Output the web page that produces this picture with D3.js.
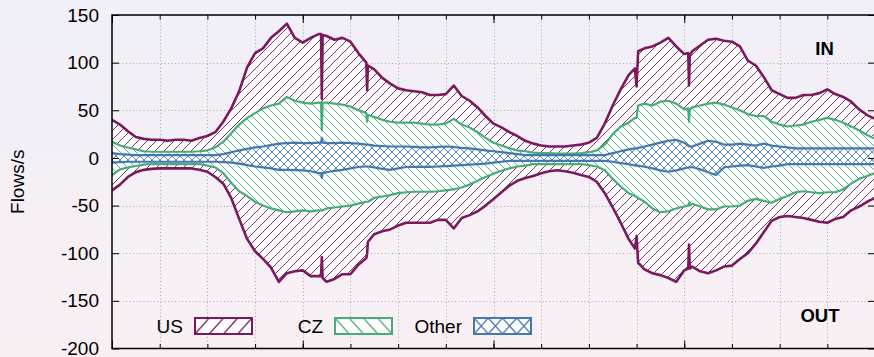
<!DOCTYPE html>
<html>
<head>
<meta charset="utf-8">
<script src="https://cdn.jsdelivr.net/npm/d3@7"></script>
<style>
  html, body { margin: 0; padding: 0; }
  svg { display: block; }
  text { font-family: "Liberation Sans", Arial, Helvetica, sans-serif; }
</style>
</head>
<body>
<svg id="chart" width="874" height="357"></svg>
<script>
// ---------------- data (flows/s) ----------------
const hours = [
  0, 0.5, 1, 1.5, 2, 2.5, 3, 3.5, 4, 4.5,
  5, 5.5, 6, 6.5, 7, 7.5, 8, 8.5, 9, 9.5,
  10, 10.5, 11, 11.5, 12, 12.5, 13, 13.15, 13.2, 13.25,
  13.5, 14, 14.5, 15, 15.5, 16, 16.05, 16.1, 16.5, 17,
  17.5, 18, 18.5, 19, 19.5, 20, 20.5, 21, 21.5, 22,
  22.5, 23, 23.5, 24, 24.5, 25, 25.5, 26, 26.5, 27,
  27.5, 28, 28.5, 29, 29.5, 30, 30.5, 31, 31.5, 32,
  32.5, 32.9, 33, 33.1, 33.5, 34, 34.5, 35, 35.5, 36,
  36.25, 36.3, 36.35, 36.5, 37, 37.5, 38, 38.5, 39, 39.5,
  40, 40.5, 41, 41.5, 42, 42.5, 43, 43.5, 44, 44.5,
  45, 45.5, 46, 46.5, 47, 47.5, 48
];
const usIn = [
  40, 35, 28, 22, 20, 19, 19, 18, 19, 19,
  18, 21, 23, 27, 38, 52, 70, 95, 110, 115,
  126, 133, 141, 126, 121, 126, 130, 130, 62, 129,
  128, 124, 126, 122, 110, 100, 71, 97, 93, 84,
  78, 73, 71, 70, 69, 66, 66, 67, 76, 65,
  60, 53, 44, 36, 32, 27, 23, 18, 15, 13,
  12, 12, 12, 13, 14, 16, 21, 36, 55, 72,
  87, 94, 75, 112, 115, 117, 121, 126, 117, 109,
  110, 76, 108, 112, 118, 124, 125, 123, 122, 117,
  102, 97, 85, 71, 67, 63, 63, 66, 66, 68,
  72, 67, 64, 59, 51, 45, 41
];
const czIn = [
  17, 13, 11, 9, 7, 6.5, 6.5, 6.5, 6.5, 6.5,
  6.5, 7, 8, 11, 17, 26, 35, 42, 47, 52,
  55, 57, 64, 60, 58, 57, 58, 58, 29, 58,
  58, 57, 56, 54, 50, 47, 38, 45, 43, 40,
  38, 37, 37, 37, 36, 35, 35, 36, 41, 35,
  32, 27, 21, 16, 13, 10, 8, 7, 5.5, 5,
  5, 4.5, 4.5, 4.5, 5, 6, 8, 14, 25, 33,
  37, 42, 42, 55, 57, 55, 59, 60, 57, 51,
  52, 38, 51, 53, 55, 57, 58, 56, 53, 50,
  46, 44, 44, 38, 35, 33, 34, 35, 38, 40,
  42, 40, 37, 33, 29, 24, 20
];
const otherIn = [
  5, 4, 3.5, 3, 3, 3, 3, 3, 3, 3,
  3, 3, 3, 3, 4, 6, 8, 9.5, 11, 12,
  13.5, 15, 15.5, 16, 15.5, 15.5, 16, 16, 21, 16,
  15.5, 15.5, 16, 15.5, 15, 14, 14, 14, 13, 12.5,
  12, 12, 12, 11.5, 11, 11, 11.5, 12, 11.5, 10.5,
  10, 9, 8, 7, 6, 5, 4, 3, 3, 3,
  3, 3, 3, 3, 3, 3, 3, 3, 5, 7,
  9, 10, 10, 10.5, 12, 14, 16, 18, 19, 16,
  13, 12, 12, 12, 15, 18, 17, 14, 14, 15,
  14, 13, 15, 13, 12, 11, 10, 10, 10, 10,
  10, 10, 10, 10, 10, 10, 10
];
const otherOut = [
  -5, -4.5, -4, -4, -4, -4, -4, -4, -4, -4,
  -4, -4, -4, -4, -4.5, -5, -6, -7.5, -9, -10,
  -11, -12.5, -12.5, -12.7, -13, -14, -16, -16, -21, -16,
  -15, -13.5, -12.5, -11, -9.5, -9, -9, -9, -10, -11.5,
  -12.5, -11, -9.5, -9.3, -9.3, -9.3, -9, -8.5, -8, -7.5,
  -7, -6.5, -6, -5, -4, -3, -3, -3, -3, -3,
  -3, -3, -3, -3, -3, -3, -3, -3, -4, -5.5,
  -6.5, -8, -8, -8, -9.3, -11, -13, -14.5, -13, -11,
  -10, -10, -10, -9.5, -12, -15, -18, -10, -9, -8,
  -7.5, -9, -10.5, -9, -8, -6.5, -6.5, -6.5, -6.5, -6.5,
  -6.5, -6.5, -6.5, -6.5, -6.5, -6.5, -6.5
];
const czOut = [
  -18, -12, -10, -8.5, -7, -6.4, -6.4, -6.4, -6.4, -6.4,
  -6.4, -6.4, -8, -10, -16, -26, -35, -40, -46, -50,
  -53, -55, -57, -56, -55, -56, -55, -55, -55, -55,
  -53, -52, -51, -50, -48, -46, -46, -46, -42, -40.5,
  -39, -37, -36, -35.5, -35.5, -35.5, -35, -34, -33, -31,
  -28, -24, -20, -16.5, -13.5, -11, -9, -8, -6.5, -6.4,
  -6.4, -6.4, -6.4, -6.4, -6.4, -7.5, -9, -13, -22, -30,
  -37, -40, -41, -42, -46, -53, -57, -56, -53, -51,
  -50, -47, -50, -48, -51, -54, -54, -51, -51, -50,
  -45, -43, -45, -47, -43, -40, -36, -35, -36, -37,
  -36, -36, -33, -27, -22, -19, -16
];
const usOut = [
  -34, -28, -20, -15, -12.5, -11.5, -11, -11, -11, -11,
  -11, -12.5, -14.5, -20, -27, -42, -64, -85, -98, -106,
  -115, -130, -121, -119, -118, -124, -124, -124, -104, -126,
  -130, -127, -122, -122, -112, -105, -100, -88, -80, -77,
  -75, -71, -68, -68, -68, -68, -65, -65, -74, -63,
  -60, -56, -50, -43, -36, -29, -24, -21, -19, -16,
  -14, -13, -14, -15.5, -18, -20, -25, -37, -52, -68,
  -85, -95, -82, -110, -117, -121, -123, -126, -130, -118,
  -116, -91, -116, -114, -119, -121, -118, -114, -113, -106,
  -100, -90, -78, -66, -62, -61, -62, -63, -65, -67,
  -68, -64, -62, -55, -51, -46, -42
];
const seriesNames = ["US", "CZ", "Other"];
const yTicks = [-200, -150, -100, -50, 0, 50, 100, 150];
const xMinorTicks = [0, 3, 6, 9, 12, 15, 18, 21, 24, 27, 30, 33, 36, 39, 42, 45, 48];
const xMajorTicks = [0, 12, 24, 36, 48];
const yLabel = "Flows/s";
const inLabel = "IN";
const outLabel = "OUT";

// ---------------- drawing ----------------
const colors = { US: "#7a1a5c", CZ: "#45ad78", Other: "#4677ae" };
const svg = d3.select("#chart");
const W = 874, H = 357;
const pLeft = 112, pRight = 875, pTop = 15, pBottom = 348.5;

const x = d3.scaleLinear().domain([0, 48]).range([pLeft, pRight]);
const y = d3.scaleLinear().domain([-200, 150]).range([pBottom, pTop]);

const defs = svg.append("defs");
const bg = defs.append("linearGradient").attr("id", "bg").attr("x1", 0).attr("y1", 0).attr("x2", 0).attr("y2", 1);
bg.append("stop").attr("offset", "0%").attr("stop-color", "#f1eff8");
bg.append("stop").attr("offset", "100%").attr("stop-color", "#f9f0f4");

function makePattern(id, color, w, h, kind, px, py, sw) {
  const p = defs.append("pattern").attr("id", id).attr("patternUnits", "userSpaceOnUse")
    .attr("width", w).attr("height", h).attr("x", px || 0).attr("y", py || 0);
  p.append("rect").attr("width", w).attr("height", h).attr("fill", "#ffffff");
  const dFwd = `M${-w},${h} L${w},${-h} M0,${h} L${w},0 M0,${2*h} L${2*w},0`;
  const dBack = `M${-w},0 L${w},${2*h} M0,0 L${w},${h} M0,${-h} L${2*w},${h}`;
  const ds = kind === "fwd" ? [dFwd] : kind === "back" ? [dBack] : [dFwd, dBack];
  ds.forEach(d => p.append("path").attr("d", d).attr("stroke", color).attr("stroke-width", sw || 1).attr("fill", "none"));
}
makePattern("pUS", colors.US, 9, 9, "fwd", 0, 0, 0.9);
makePattern("pCZ", colors.CZ, 8, 8, "back", 0, 0, 0.9);
makePattern("pOther", colors.Other, 8, 8, "cross", 0, 0, 0.9);

svg.append("rect").attr("width", W).attr("height", H).attr("fill", "url(#bg)");

defs.append("clipPath").attr("id", "plotClip").append("rect")
  .attr("x", pLeft).attr("y", pTop).attr("width", pRight - pLeft).attr("height", pBottom - pTop);

// grid
const grid = svg.append("g").attr("stroke", "#a8a8a8").attr("stroke-width", 1).attr("stroke-dasharray", "1,2.5");
grid.selectAll(".gx").data(xMinorTicks.filter(t => t > 0 && t < 48)).enter().append("line")
  .attr("x1", d => Math.round(x(d)) + 0.5).attr("x2", d => Math.round(x(d)) + 0.5)
  .attr("y1", pTop).attr("y2", pBottom);
grid.selectAll(".gy").data(yTicks.filter(t => t > -200 && t < 150)).enter().append("line")
  .attr("x1", pLeft).attr("x2", pRight)
  .attr("y1", d => Math.round(y(d)) + 0.5).attr("y2", d => Math.round(y(d)) + 0.5);

// data
const plot = svg.append("g").attr("clip-path", "url(#plotClip)");
const series = [
  { name: "US", inV: usIn, outV: usOut, fill: "url(#pUS)", lw: 2.6 },
  { name: "CZ", inV: czIn, outV: czOut, fill: "url(#pCZ)", lw: 2.2 },
  { name: "Other", inV: otherIn, outV: otherOut, fill: "url(#pOther)", lw: 2.2 }
];
series.forEach(s => {
  const idx = d3.range(hours.length);
  const area = d3.area().x(i => x(hours[i])).y0(i => y(s.outV[i])).y1(i => y(s.inV[i]));
  plot.append("path").datum(idx).attr("d", area).attr("fill", s.fill).attr("stroke", "none");
});
series.forEach(s => {
  const idx = d3.range(hours.length);
  [s.inV, s.outV].forEach(vals => {
    const line = d3.line().x(i => x(hours[i])).y(i => y(vals[i]));
    plot.append("path").datum(idx).attr("d", line).attr("fill", "none")
      .attr("stroke", colors[s.name]).attr("stroke-width", s.lw).attr("stroke-linejoin", "round");
  });
});

// axes
const fontSize = 19;
const yAxis = d3.axisLeft(y).tickValues(yTicks).tickSize(-7).tickPadding(13).tickFormat(d => String(d));
const gy = svg.append("g").attr("transform", `translate(${pLeft},0)`).call(yAxis);
gy.select(".domain").remove();
gy.selectAll("text").attr("font-size", fontSize).attr("fill", "#000").attr("font-family", "Liberation Sans, Arial, sans-serif");
gy.selectAll("line").attr("stroke", "#000");

const yAxisR = d3.axisRight(y).tickValues(yTicks).tickSize(-7).tickFormat("");
const gyr = svg.append("g").attr("transform", `translate(${pRight},0)`).call(yAxisR);
gyr.select(".domain").remove();
gyr.selectAll("line").attr("stroke", "#000");

function xTicksAxis(axisFn, ypos, vals, size) {
  const a = axisFn(x).tickValues(vals).tickSize(size).tickFormat("");
  const g = svg.append("g").attr("transform", `translate(0,${ypos})`).call(a);
  g.select(".domain").remove();
  g.selectAll("line").attr("stroke", "#000");
}
xTicksAxis(d3.axisBottom, pBottom, xMinorTicks, -4.5);
xTicksAxis(d3.axisBottom, pBottom, xMajorTicks, -8);
xTicksAxis(d3.axisTop, pTop, xMinorTicks, -4.5);
xTicksAxis(d3.axisTop, pTop, xMajorTicks, -8);

// frame
svg.append("rect").attr("x", pLeft).attr("y", pTop).attr("width", pRight - pLeft).attr("height", pBottom - pTop)
  .attr("fill", "none").attr("stroke", "#000").attr("stroke-width", 1.5);

// y label
svg.append("text").attr("transform", `translate(24,${(pTop + pBottom) / 2}) rotate(-90)`)
  .attr("text-anchor", "middle").attr("font-size", fontSize).text(yLabel);

// IN / OUT
svg.append("text").attr("x", 824.5).attr("y", 55).attr("text-anchor", "middle")
  .attr("font-size", 18.5).attr("font-weight", "bold").text(inLabel);
svg.append("text").attr("x", 820).attr("y", 322).attr("text-anchor", "middle")
  .attr("font-size", 18.5).attr("font-weight", "bold").text(outLabel);

// legend
const legendX = [183, 323, 462];
const swW = 57, swH = 16, swY = 318;
seriesNames.forEach((name, i) => {
  const tx = legendX[i];
  const sx = tx + 12;
  makePattern("leg" + name, colors[name], 14.25, 16, name === "US" ? "fwd" : name === "CZ" ? "back" : "cross", sx, swY, 1.3);
  svg.append("text").attr("x", tx).attr("y", swY + 15).attr("text-anchor", "end")
    .attr("font-size", fontSize).text(name);
  svg.append("rect").attr("x", sx).attr("y", swY).attr("width", swW).attr("height", swH)
    .attr("fill", `url(#leg${name})`).attr("stroke", colors[name]).attr("stroke-width", 2);
});
</script>
</body>
</html>
